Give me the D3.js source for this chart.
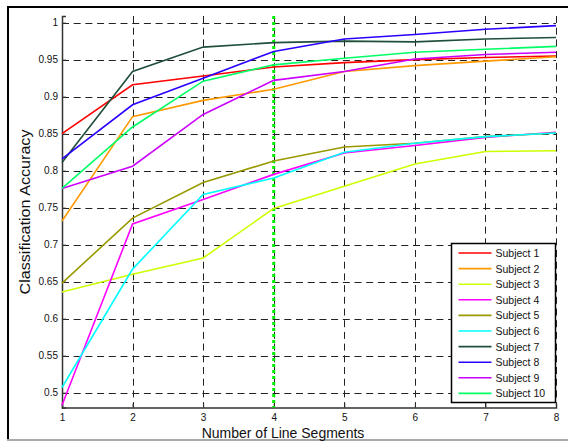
<!DOCTYPE html>
<html>
<head>
<meta charset="utf-8">
<script src="https://cdn.jsdelivr.net/npm/d3@7"></script>
<style>
  body { margin: 0; background: #fff; }
  svg { display: block; font-family: "Liberation Sans", Arial, sans-serif; }
</style>
</head>
<body>
<script>
// x values: number of line segments
const segments = [1, 2, 3, 4, 5, 6, 7, 8];
const yTicks = [0.5, 0.55, 0.6, 0.65, 0.7, 0.75, 0.8, 0.85, 0.9, 0.95, 1];

// accuracy per subject
const subject1  = [0.850, 0.916, 0.928, 0.940, 0.946, 0.950, 0.953, 0.955];
const subject2  = [0.732, 0.873, 0.895, 0.910, 0.934, 0.942, 0.948, 0.954];
const subject3  = [0.636, 0.660, 0.682, 0.749, 0.779, 0.809, 0.826, 0.827];
const subject4  = [0.483, 0.728, 0.761, 0.795, 0.824, 0.834, 0.845, 0.852];
const subject5  = [0.648, 0.736, 0.784, 0.813, 0.832, 0.837, 0.846, 0.851];
const subject6  = [0.507, 0.667, 0.768, 0.790, 0.825, 0.837, 0.846, 0.851];
const subject7  = [0.811, 0.934, 0.967, 0.973, 0.975, 0.974, 0.978, 0.980];
const subject8  = [0.816, 0.889, 0.925, 0.961, 0.978, 0.984, 0.991, 0.996];
const subject9  = [0.776, 0.806, 0.876, 0.922, 0.934, 0.951, 0.957, 0.960];
const subject10 = [0.776, 0.859, 0.921, 0.943, 0.952, 0.960, 0.964, 0.968];

const names = ['Subject 1', 'Subject 2', 'Subject 3', 'Subject 4', 'Subject 5',
               'Subject 6', 'Subject 7', 'Subject 8', 'Subject 9', 'Subject 10'];
const colors = ['#ff0000', '#ff9900', '#ccff00', '#ff00ff', '#999900',
                '#00ffff', '#1f4f3a', '#2a00ff', '#cc00ff', '#00ff66'];
const values = [subject1, subject2, subject3, subject4, subject5,
                subject6, subject7, subject8, subject9, subject10];

const series = names.map((name, i) => ({ name: name, color: colors[i], values: values[i] }));

const width = 568, height = 443;
const plot = { left: 62, right: 556, top: 16, bottom: 407.5 };

const svg = d3.select('body').append('svg')
  .attr('width', width)
  .attr('height', height);

// outer figure frame
svg.append('rect')
  .attr('x', 8).attr('y', 7)
  .attr('width', 580).attr('height', 433)
  .attr('fill', 'none')
  .attr('stroke', '#000')
  .attr('stroke-width', 2);
svg.append('line')
  .attr('x1', 7).attr('x2', 568)
  .attr('y1', 440).attr('y2', 440)
  .attr('stroke', '#aaa')
  .attr('stroke-width', 2);

const xScale = d3.scaleLinear().domain([1, 8]).range([plot.left, plot.right]);
const yScale = d3.scaleLinear().domain([0.48, 1.009]).range([plot.bottom, plot.top]);

// dashed grid
const grid = svg.append('g')
  .attr('stroke', '#222')
  .attr('stroke-width', 1)
  .attr('stroke-dasharray', '7,4.7');

grid.selectAll('line.h')
  .data(yTicks)
  .join('line')
  .attr('class', 'h')
  .attr('x1', plot.left).attr('x2', plot.right)
  .attr('y1', d => Math.round(yScale(d)) + 0.5)
  .attr('y2', d => Math.round(yScale(d)) + 0.5);

grid.selectAll('line.v')
  .data(segments.slice(1))
  .join('line')
  .attr('class', 'v')
  .attr('y1', plot.top).attr('y2', plot.bottom)
  .attr('x1', d => Math.round(xScale(d)) + 0.5)
  .attr('x2', d => Math.round(xScale(d)) + 0.5);

// axes
const xAxis = d3.axisBottom(xScale).tickValues(segments).tickSize(-4).tickPadding(6).tickFormat(d3.format('d'));
const yAxis = d3.axisLeft(yScale).tickValues(yTicks).tickSize(-4).tickPadding(4).tickFormat(d => String(d));

const gx = svg.append('g')
  .attr('transform', `translate(0, ${plot.bottom})`)
  .call(xAxis);
const gy = svg.append('g')
  .attr('transform', `translate(${plot.left}, 0)`)
  .call(yAxis);

[gx, gy].forEach(g => {
  g.select('.domain').attr('stroke', '#333').attr('stroke-width', 1.5);
  g.selectAll('.tick line').attr('stroke', '#333');
  g.selectAll('.tick text').attr('fill', '#111').style('font-size', '10px');
});

// highlighted choice at 4 segments
svg.append('line')
  .attr('x1', xScale(4)).attr('x2', xScale(4))
  .attr('y1', plot.top).attr('y2', plot.bottom)
  .attr('stroke', '#00ee00')
  .attr('stroke-width', 3)
  .attr('stroke-dasharray', '3,3');

// subject lines
const line = d3.line()
  .x((d, i) => xScale(segments[i]))
  .y(d => yScale(d));

svg.append('g')
  .selectAll('path')
  .data(series)
  .join('path')
  .attr('d', d => line(d.values))
  .attr('fill', 'none')
  .attr('stroke', d => d.color)
  .attr('stroke-width', 1.6);

// axis labels
svg.append('text')
  .attr('x', 283).attr('y', 438)
  .attr('text-anchor', 'middle')
  .style('font-size', '14px')
  .attr('fill', '#111')
  .text('Number of Line Segments');

svg.append('text')
  .attr('transform', 'translate(30, 212) rotate(-90)')
  .attr('text-anchor', 'middle')
  .style('font-size', '15px')
  .attr('textLength', 165)
  .attr('lengthAdjust', 'spacingAndGlyphs')
  .attr('fill', '#111')
  .text('Classification Accuracy');

// legend
const legend = svg.append('g').attr('transform', 'translate(451.5, 243.5)');
legend.append('rect')
  .attr('width', 104).attr('height', 159)
  .attr('fill', '#fff')
  .attr('stroke', '#000')
  .attr('stroke-width', 1.5);

const item = legend.selectAll('g')
  .data(series)
  .join('g')
  .attr('transform', (d, i) => `translate(0, ${9.5 + i * 15.6})`);

item.append('line')
  .attr('x1', 7).attr('x2', 40)
  .attr('stroke', d => d.color)
  .attr('stroke-width', 1.6);

item.append('text')
  .attr('x', 44).attr('y', 4)
  .style('font-size', '10.5px')
  .attr('fill', '#111')
  .text(d => d.name);
</script>
</body>
</html>
